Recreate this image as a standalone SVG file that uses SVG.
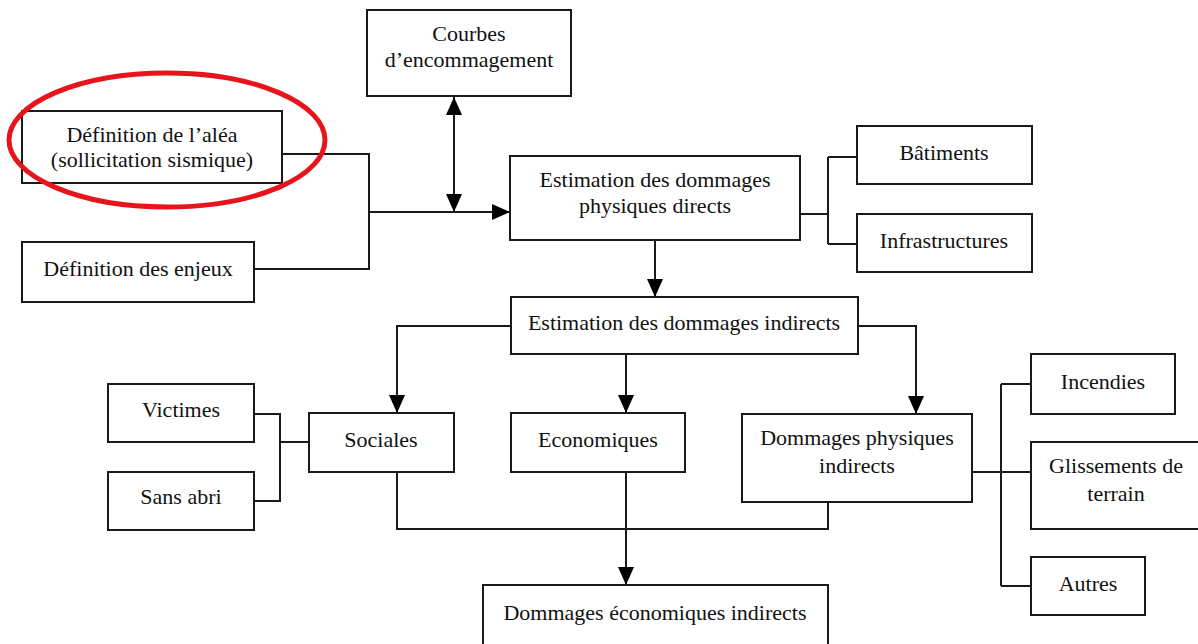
<svg xmlns="http://www.w3.org/2000/svg" width="1198" height="644" viewBox="0 0 1198 644">
<style>
.box{fill:#fff;stroke:#1a1a1a;stroke-width:2}
.t{font-family:'Liberation Serif','DejaVu Serif','Times New Roman',serif;font-size:22px;fill:#111;text-anchor:middle}
.c{fill:none;stroke:#1a1a1a;stroke-width:2}
</style>
<defs>
<marker id="ah" markerUnits="userSpaceOnUse" markerWidth="18" markerHeight="18" viewBox="0 0 18 18" refX="18" refY="9" orient="auto-start-reverse">
<path d="M0,1 L18,9 L0,17 Z" fill="#000"/>
</marker>
</defs>
<rect width="1198" height="644" fill="#fff"/>
<g id="connectors">
<path class="c" d="M282,154 H369 V269 H254"/>
<path class="c" d="M369,212 H510" marker-end="url(#ah)"/>
<path class="c" d="M454,97 V212" marker-start="url(#ah)" marker-end="url(#ah)"/>
<path class="c" d="M800,214 H828 M828,157 V244 M828,157 H857 M828,244 H857"/>
<path class="c" d="M655,240 V297" marker-end="url(#ah)"/>
<path class="c" d="M511,326 H397 V413" marker-end="url(#ah)"/>
<path class="c" d="M626,354 V413" marker-end="url(#ah)"/>
<path class="c" d="M858,326 H916 V414" marker-end="url(#ah)"/>
<path class="c" d="M254,414 H280 V501 H254 M280,442 H309"/>
<path class="c" d="M397,472 V529 H828 V502"/>
<path class="c" d="M626,472 V585" marker-end="url(#ah)"/>
<path class="c" d="M972,472 H1031 M1001,384 V586 M1001,384 H1031 M1001,586 H1031"/>
</g>
<g id="courbes"><rect class="box" x="367" y="10" width="204" height="86"/><text class="t" x="469" y="41">Courbes</text><text class="t" x="469" y="67">d’encommagement</text></g>
<g id="alea"><rect class="box" x="22" y="111" width="260" height="72"/><text class="t" x="152" y="142">Définition de l’aléa</text><text class="t" x="152" y="167">(sollicitation sismique)</text></g>
<ellipse id="highlight" cx="167" cy="140" rx="158" ry="67" fill="none" stroke="#e8141c" stroke-width="5"/>
<g id="enjeux"><rect class="box" x="22" y="242" width="232" height="60"/><text class="t" x="138" y="276">Définition des enjeux</text></g>
<g id="directs"><rect class="box" x="510" y="156" width="290" height="84"/><text class="t" x="655" y="187">Estimation des dommages</text><text class="t" x="655" y="213">physiques directs</text></g>
<g id="batiments"><rect class="box" x="857" y="126" width="175" height="58"/><text class="t" x="944" y="160">Bâtiments</text></g>
<g id="infra"><rect class="box" x="857" y="214" width="175" height="58"/><text class="t" x="944" y="248">Infrastructures</text></g>
<g id="indirects"><rect class="box" x="511" y="297" width="347" height="57"/><text class="t" x="684" y="330">Estimation des dommages indirects</text></g>
<g id="victimes"><rect class="box" x="108" y="384" width="146" height="58"/><text class="t" x="181" y="417">Victimes</text></g>
<g id="sansabri"><rect class="box" x="108" y="472" width="146" height="58"/><text class="t" x="181" y="504">Sans abri</text></g>
<g id="sociales"><rect class="box" x="309" y="413" width="145" height="59"/><text class="t" x="381" y="447">Sociales</text></g>
<g id="economiques"><rect class="box" x="511" y="413" width="174" height="59"/><text class="t" x="598" y="447">Economiques</text></g>
<g id="physindirects"><rect class="box" x="742" y="414" width="230" height="88"/><text class="t" x="857" y="445">Dommages physiques</text><text class="t" x="857" y="473">indirects</text></g>
<g id="incendies"><rect class="box" x="1031" y="354" width="144" height="60"/><text class="t" x="1103" y="389">Incendies</text></g>
<g id="glissements"><rect class="box" x="1031" y="442" width="180" height="87"/><text class="t" x="1116" y="473">Glissements de</text><text class="t" x="1116" y="501">terrain</text></g>
<g id="autres"><rect class="box" x="1031" y="557" width="114" height="58"/><text class="t" x="1088" y="591">Autres</text></g>
<g id="ecoindirects"><rect class="box" x="483" y="585" width="345" height="70"/><text class="t" x="655" y="620">Dommages économiques indirects</text></g>
</svg>
